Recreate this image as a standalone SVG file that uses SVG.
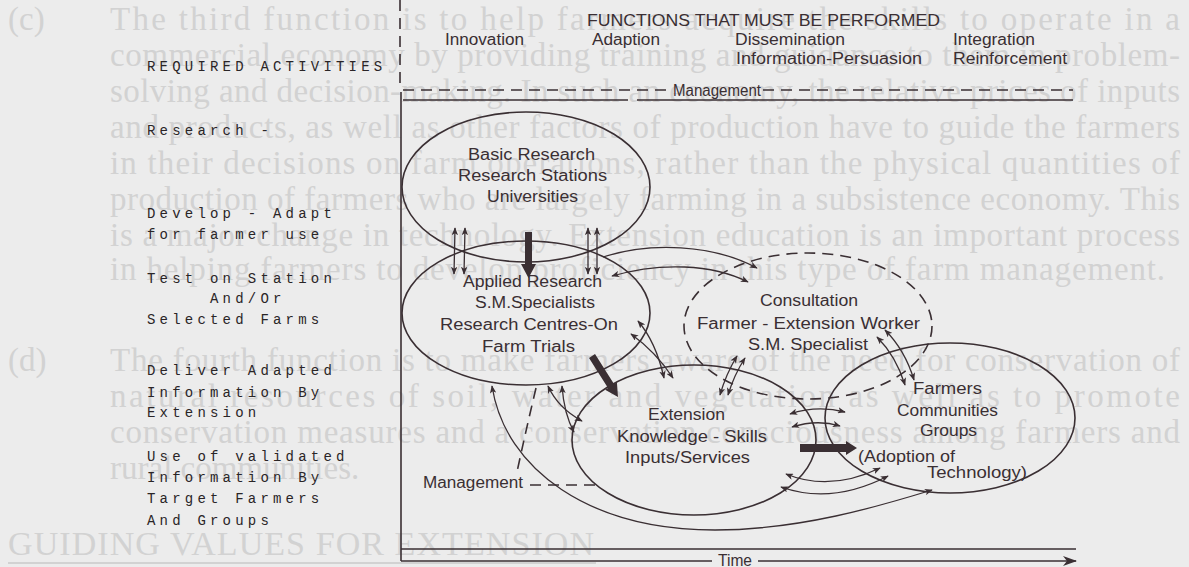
<svg xmlns="http://www.w3.org/2000/svg" width="1189" height="567" viewBox="0 0 1189 567">
  <defs>
    <style>
      .page { fill: #d2d2d2; font-family: "Liberation Serif", "Times New Roman", serif; font-size: 33px; }
      .ink { stroke: #3a2f33; fill: none; stroke-width: 1.6; }
      .dash { stroke: #3a2f33; fill: none; stroke-width: 1.6; stroke-dasharray: 11 7; }
      .lbl { fill: #3a2f33; font-family: "Liberation Sans", Arial, sans-serif; font-size: 16px; }
      .typ { fill: #2a2527; font-family: "Liberation Mono", "Courier New", monospace; font-size: 14px; letter-spacing: 4.2px; }
      .bold { fill: #3a2f33; stroke: none; }
      .pair { stroke: #3a2f33; fill: none; stroke-width: 1.3; marker-start: url(#ah); marker-end: url(#ah); }
      .one { stroke: #3a2f33; fill: none; stroke-width: 1.3; marker-end: url(#ah); }
    </style>
    <marker id="ah" viewBox="0 0 10 8" refX="9" refY="4" markerWidth="8" markerHeight="6.4" markerUnits="userSpaceOnUse" orient="auto-start-reverse">
      <path d="M0,0 L10,4 L0,8 L2.5,4 Z" fill="#3a2f33"/>
    </marker>
    <marker id="big" viewBox="0 0 14 10" refX="13" refY="5" markerWidth="14" markerHeight="10" markerUnits="userSpaceOnUse" orient="auto">
      <path d="M0,0 L14,5 L0,10 L4,5 Z" fill="#3a2f33"/>
    </marker>
  </defs>

  <!-- printed page underneath -->
  <rect width="1189" height="567" fill="#ececec"/>
  <g id="page-text" class="page">
    <text x="8" y="30">(c)</text>
    <text x="110" y="30" textLength="1070" lengthAdjust="spacing">The third function is to help farmers acquire the skills to operate in a</text>
    <text x="110" y="66" textLength="1070" lengthAdjust="spacing">commercial economy by providing training and guidance to them in problem-</text>
    <text x="110" y="102" textLength="1070" lengthAdjust="spacing">solving and decision-making. In such an economy, the relative prices of inputs</text>
    <text x="110" y="138" textLength="1070" lengthAdjust="spacing">and products, as well as other factors of production have to guide the farmers</text>
    <text x="110" y="174" textLength="1070" lengthAdjust="spacing">in their decisions on farm operations, rather than the physical quantities of</text>
    <text x="110" y="210" textLength="1070" lengthAdjust="spacing">production of farmers who are largely farming in a subsistence economy. This</text>
    <text x="110" y="246" textLength="1070" lengthAdjust="spacing">is a major change in technology. Extension education is an important process</text>
    <text x="110" y="280" textLength="1055" lengthAdjust="spacing">in helping farmers to develop proficiency in this type of farm management.</text>
    <text x="8" y="371">(d)</text>
    <text x="110" y="371" textLength="1070" lengthAdjust="spacing">The fourth function is to make farmers aware of the need for conservation of</text>
    <text x="110" y="407" textLength="1070" lengthAdjust="spacing">natural resources of soil, water and vegetation as well as to promote</text>
    <text x="110" y="443" textLength="1070" lengthAdjust="spacing">conservation measures and a conservation consciousness among farmers and</text>
    <text x="110" y="479">rural communities.</text>
    <text x="8" y="555" font-size="34" textLength="586" lengthAdjust="spacing">GUIDING VALUES FOR EXTENSION</text>
    <line x1="8" y1="563" x2="596" y2="563" stroke="#d2d2d2" stroke-width="2"/>
  </g>

  <!-- frame, time axis and management bands -->
  <g id="frame">
    <line class="dash" x1="400" y1="0" x2="400" y2="90" stroke-dasharray="6 5"/>
    <line class="ink" x1="401" y1="92" x2="401" y2="561"/>
    <path class="dash" d="M403,90 H668 M763,90 H1073" stroke-dasharray="10 6"/>
    <path class="ink" d="M403,100 H628 M637,100 H1073"/>
    <line class="ink" x1="401" y1="549" x2="1076" y2="549"/>
    <path class="ink" d="M401,561 H712"/>
    <path class="ink" d="M758,561 H1076" marker-end="url(#big)"/>
    <text class="lbl" x="718" y="566" textLength="34" lengthAdjust="spacingAndGlyphs" font-size="15">Time</text>
  </g>

  <!-- column headings -->
  <g id="headings" class="lbl">
    <text x="587" y="26" textLength="353" lengthAdjust="spacingAndGlyphs">FUNCTIONS THAT MUST BE PERFORMED</text>
    <text x="445" y="45" textLength="79" lengthAdjust="spacingAndGlyphs">Innovation</text>
    <text x="592" y="45" textLength="68" lengthAdjust="spacingAndGlyphs">Adaption</text>
    <text x="735" y="45" textLength="110" lengthAdjust="spacingAndGlyphs">Dissemination</text>
    <text x="736" y="64" textLength="186" lengthAdjust="spacingAndGlyphs">Information-Persuasion</text>
    <text x="953" y="45" textLength="82" lengthAdjust="spacingAndGlyphs">Integration</text>
    <text x="953" y="64" textLength="114" lengthAdjust="spacingAndGlyphs">Reinforcement</text>
    <text x="673" y="96" textLength="88" lengthAdjust="spacingAndGlyphs">Management</text>
  </g>

  <!-- required activities column -->
  <g id="activities" class="typ">
    <text x="147" y="71">REQUIRED ACTIVITIES</text>
    <text x="147" y="135">Research -</text>
    <text x="147" y="218">Develop - Adapt</text>
    <text x="147" y="239">for farmer use</text>
    <text x="147" y="283">Test on Station</text>
    <text x="210" y="303">And/Or</text>
    <text x="147" y="324">Selected Farms</text>
    <text x="147" y="375">Deliver Adapted</text>
    <text x="147" y="397">Information By</text>
    <text x="147" y="417">Extension</text>
    <text x="147" y="461">Use of validated</text>
    <text x="147" y="482">Information By</text>
    <text x="147" y="503">Target Farmers</text>
    <text x="147" y="525">And Groups</text>
  </g>

  <!-- nodes -->
  <g id="basic-research">
    <ellipse class="ink" cx="526" cy="187" rx="124" ry="75"/>
    <g class="lbl">
      <text x="468" y="160" textLength="127" lengthAdjust="spacingAndGlyphs">Basic Research</text>
      <text x="458" y="181" textLength="149" lengthAdjust="spacingAndGlyphs">Research Stations</text>
      <text x="487" y="202" textLength="91" lengthAdjust="spacingAndGlyphs">Universities</text>
    </g>
  </g>
  <g id="applied-research">
    <ellipse class="ink" cx="526" cy="313" rx="124" ry="72"/>
    <g class="lbl">
      <text x="463" y="287" textLength="139" lengthAdjust="spacingAndGlyphs">Applied Research</text>
      <text x="475" y="308" textLength="120" lengthAdjust="spacingAndGlyphs">S.M.Specialists</text>
      <text x="440" y="330" textLength="178" lengthAdjust="spacingAndGlyphs">Research Centres-On</text>
      <text x="482" y="352" textLength="93" lengthAdjust="spacingAndGlyphs">Farm Trials</text>
    </g>
  </g>
  <g id="consultation">
    <ellipse class="dash" cx="808" cy="326" rx="124" ry="73"/>
    <g class="lbl">
      <text x="760" y="306" textLength="98" lengthAdjust="spacingAndGlyphs">Consultation</text>
      <text x="697" y="329" textLength="223" lengthAdjust="spacingAndGlyphs">Farmer - Extension Worker</text>
      <text x="748" y="350" textLength="120" lengthAdjust="spacingAndGlyphs">S.M. Specialist</text>
    </g>
  </g>
  <g id="extension">
    <ellipse class="ink" cx="694" cy="440" rx="122" ry="75"/>
    <g class="lbl">
      <text x="648" y="420" textLength="77" lengthAdjust="spacingAndGlyphs">Extension</text>
      <text x="617" y="442" textLength="150" lengthAdjust="spacingAndGlyphs">Knowledge - Skills</text>
      <text x="625" y="463" textLength="125" lengthAdjust="spacingAndGlyphs">Inputs/Services</text>
    </g>
  </g>
  <g id="farmers">
    <ellipse class="ink" cx="950" cy="418" rx="125" ry="75"/>
    <g class="lbl">
      <text x="913" y="394" textLength="69" lengthAdjust="spacingAndGlyphs">Farmers</text>
      <text x="897" y="416" textLength="101" lengthAdjust="spacingAndGlyphs">Communities</text>
      <text x="920" y="436" textLength="57" lengthAdjust="spacingAndGlyphs">Groups</text>
      <text x="858" y="462" textLength="97" lengthAdjust="spacingAndGlyphs">(Adoption of</text>
      <text x="927" y="478" textLength="100" lengthAdjust="spacingAndGlyphs">Technology)</text>
    </g>
  </g>
  <g id="management-low">
    <text class="lbl" x="423" y="488" textLength="100" lengthAdjust="spacingAndGlyphs">Management</text>
    <path class="dash" d="M536,388 Q526,430 517,472" stroke-dasharray="9 7"/>
    <path class="dash" d="M530,485 H596" stroke-dasharray="9 7"/>
  </g>

  <!-- connectors -->
  <g id="connectors">
    <!-- two-way exchanges between neighbouring circles -->
    <path class="pair" d="M455,228 L454,274"/>
    <path class="pair" d="M465,228 L464,274"/>
    <path class="pair" d="M588,228 L588,274"/>
    <path class="pair" d="M597,228 L597,274"/>
    <path class="one" d="M603,257 C650,242 712,244 757,268"/>
    <path class="pair" d="M612,276 C660,262 712,264 748,282"/>
    <path class="pair" d="M638,321 Q656,342 664,378"/>
    <path class="pair" d="M631,334 Q656,352 673,378"/>
    <path class="pair" d="M720,395 Q726,374 737,356"/>
    <path class="pair" d="M728,395 Q734,375 745,358"/>
    <path class="pair" d="M877,337 Q896,356 905,385"/>
    <path class="pair" d="M885,330 Q905,350 914,380"/>
    <path class="pair" d="M790,414 Q817,405 845,412"/>
    <path class="pair" d="M792,427 Q817,419 840,426"/>
    <path class="pair" d="M786,474 Q830,492 880,468"/>
    <path class="pair" d="M781,487 Q832,505 888,476"/>
    <path class="pair" d="M548,386 Q558,408 582,421"/>
    <path class="pair" d="M562,386 Q564,414 574,432"/>
    <path class="pair" d="M492,386 C505,470 590,530 715,530 C800,530 880,506 932,490"/>
    <!-- main flow of technology -->
    <path class="bold" d="M525,232 L532,232 L532,264 L536,264 L528.5,278 L521,264 L525,264 Z"/>
    <path class="bold" d="M589,357.9 L595,354.1 L614,384.1 L616.9,382.2 L618,397 L605.1,389.8 L608,387.9 Z"/>
    <path class="bold" d="M800,444 L846,444 L846,441 L857,448 L846,455 L846,452 L800,452 Z"/>
  </g>
</svg>
